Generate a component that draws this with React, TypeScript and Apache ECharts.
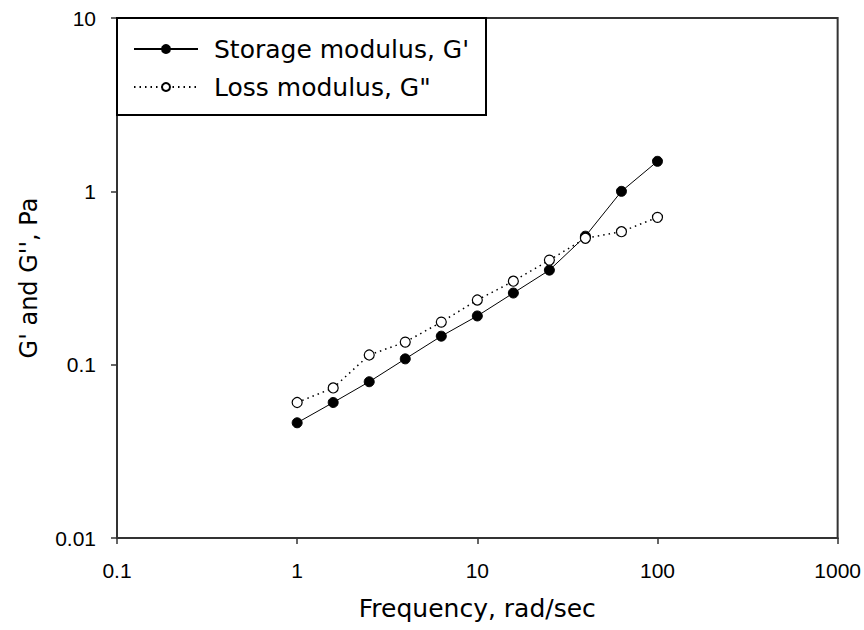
import React, { useEffect, useRef } from "react";
import * as echarts from "echarts";

const frequency = [1, 1.585, 2.512, 3.981, 6.31, 10, 15.85, 25.12, 39.81, 63.1, 100];
const storageModulus = [0.0462, 0.0605, 0.0797, 0.108, 0.146, 0.191, 0.259, 0.351, 0.551, 1.0, 1.49];
const lossModulus = [0.0605, 0.0734, 0.1137, 0.135, 0.176, 0.236, 0.303, 0.401, 0.536, 0.585, 0.708];
const xTicks = ["0.1", "1", "10", "100", "1000"];
const yTicks = ["0.01", "0.1", "1", "10"];

const TITLE_FONT = "'DejaVu Sans', 'Liberation Sans', Arial, sans-serif";
const TICK_FONT = "'Liberation Sans Narrow', 'Arial Narrow', 'Liberation Sans', Arial, sans-serif";

export default function App() {
  const ref = useRef<HTMLDivElement>(null);
  useEffect(() => {
    if (!ref.current) return;
    const chart = echarts.init(ref.current, undefined, { renderer: "svg" });
    const fmt = (v: number) => {
      const all = [...xTicks, ...yTicks];
      for (const t of all) if (Math.abs(parseFloat(t) - v) / parseFloat(t) < 1e-6) return t;
      return String(v);
    };
    chart.setOption({
      animation: false,
      backgroundColor: "#fff",
      textStyle: { fontFamily: TITLE_FONT },
      grid: { left: 117, top: 18, right: 21, bottom: 92, show: true, borderColor: "#333", borderWidth: 2 },
      xAxis: {
        type: "log",
        logBase: 10,
        min: 0.1,
        max: 1000,
        name: "Frequency, rad/sec",
        nameLocation: "middle",
        nameGap: 58,
        nameTextStyle: { fontSize: 25, color: "#000", fontFamily: TITLE_FONT },
        axisLine: { lineStyle: { color: "#333", width: 2 } },
        axisTick: { show: true, inside: false, length: 6, lineStyle: { color: "#333", width: 1.5 } },
        minorTick: { show: false },
        splitLine: { show: false },
        axisLabel: { fontSize: 21, color: "#000", margin: 22, fontFamily: TICK_FONT, formatter: fmt },
      },
      yAxis: {
        type: "log",
        logBase: 10,
        min: 0.01,
        max: 10,
        name: "G' and G'', Pa",
        nameLocation: "middle",
        nameRotate: 90,
        nameGap: 76,
        nameTextStyle: { fontSize: 24, color: "#000", fontFamily: TITLE_FONT },
        axisLine: { lineStyle: { color: "#333", width: 2 } },
        axisTick: { show: true, inside: false, length: 6, lineStyle: { color: "#333", width: 1.5 } },
        minorTick: { show: false },
        splitLine: { show: false },
        axisLabel: { fontSize: 21, color: "#000", margin: 21, fontFamily: TICK_FONT, formatter: fmt },
      },
      graphic: [
        {
          type: "rect",
          z: 3,
          shape: { x: 117, y: 18, width: 369, height: 97 },
          style: { fill: "#fff", stroke: "#000", lineWidth: 2 },
        },
      ],
      legend: {
        orient: "vertical",
        left: 133,
        top: 36,
        padding: 0,
        itemGap: 12,
        itemWidth: 64,
        itemHeight: 10,
        z: 5,
        textStyle: { fontSize: 25, color: "#000", lineHeight: 26, padding: [0, 0, 0, 11], fontFamily: TITLE_FONT },
        data: ["Storage modulus, G'", "Loss modulus, G\""],
      },
      series: [
        {
          name: "Storage modulus, G'",
          type: "line",
          data: frequency.map((f, i) => [f, storageModulus[i]]),
          symbol: "circle",
          symbolSize: 10,
          itemStyle: { color: "#000", borderColor: "#000", borderWidth: 1 },
          lineStyle: { color: "#000", width: 1 },
        },
        {
          name: "Loss modulus, G\"",
          type: "line",
          data: frequency.map((f, i) => [f, lossModulus[i]]),
          symbol: "circle",
          symbolSize: 10,
          itemStyle: { color: "#fff", borderColor: "#000", borderWidth: 1.2 },
          lineStyle: { color: "#000", width: 1.5, type: [1.5, 4] },
        },
      ],
    });
    return () => chart.dispose();
  }, []);
  return <div ref={ref} style={{ width: 864, height: 630, position: "absolute", left: 0, top: 0 }} />;
}
